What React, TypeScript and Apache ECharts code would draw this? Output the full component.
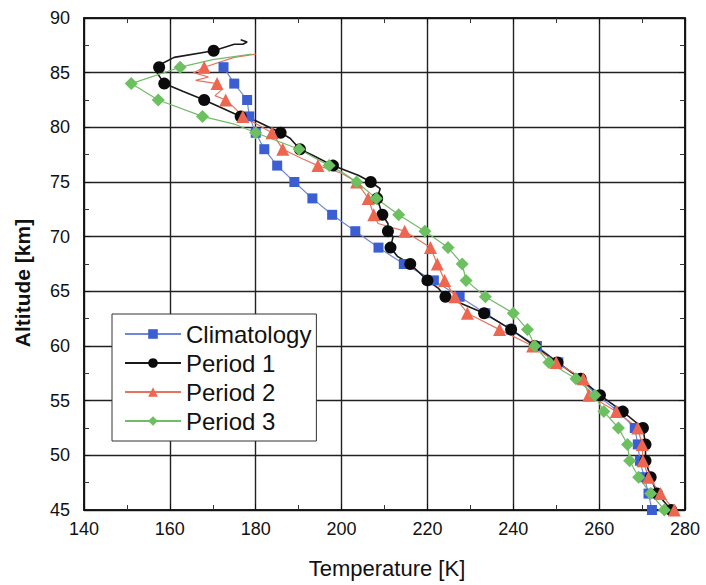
import React, { useEffect, useRef } from "react";
import * as echarts from "echarts";

// Altitudes (km) where markers are drawn
const ALT = [85.5, 84, 82.5, 81, 79.5, 78, 76.5, 75, 73.5, 72, 70.5, 69, 67.5, 66, 64.5, 63, 61.5, 60, 58.5, 57, 55.5, 54, 52.5, 51, 49.5, 48, 46.5, 45];
const ALT_P1 = [87, ...ALT];

// Temperatures (K) at the marker altitudes
const climatology = [172.5, 175, 178, 178.5, 180, 182, 185, 189, 193.2, 197.8, 203.2, 208.6, 214.5, 221.5, 227.5, 233.5, 239.5, 245.5, 250.5, 255.5, 259.5, 264.5, 268.3, 269, 269.5, 270.5, 271.5, 272.3];
const period1 = [170.2, 157.5, 158.7, 168, 176.5, 185.8, 190.3, 198, 206.8, 208.3, 209.5, 210.8, 211.4, 216, 220, 224.2, 233.2, 239.5, 245, 250.3, 255.7, 260.2, 265.5, 270.2, 270.8, 270.8, 272, 273.5, 276.8];
const period2 = [168, 171, 173, 177, 183.8, 186.3, 194.5, 203.5, 206.2, 207.5, 214.7, 220.7, 222.3, 224, 226.4, 229.3, 236.8, 244.5, 250, 256.3, 257.6, 264, 269, 270, 270.2, 271.5, 274.3, 277.5];
const period3 = [162.4, 151, 157.3, 167.6, 180, 190.1, 197.1, 203.5, 208.1, 213.3, 219.4, 224.8, 228.1, 229, 233.5, 240, 243.3, 245, 248.3, 254.6, 259, 261.1, 264.5, 266.6, 267.1, 269.2, 272, 275.2];

// Unmarked points of the high-resolution profiles [T, altitude]
const period1Line = [[176.5, 88.0], [178, 87.8], [177, 87.6], [175, 87.6], [161, 86.4], [158, 85.8], [157, 85.0], [163, 83.3], [172, 81.8], [180, 80.6], [188, 79.0], [193.5, 77.4], [204, 75.6], [209, 74.4], [210.8, 71.2], [212, 70.0], [213, 68.2], [222.5, 65.3]];
const period2Line = [[180, 86.7], [175, 86.4], [165.5, 85.0], [169, 84.6], [166, 84.3], [172, 83.4], [170.5, 82.9], [175, 81.8], [191, 77.1], [200, 75.8], [208.5, 71.2], [223, 66.9]];
const period3Line = [[179, 86.7], [170, 86.2], [175, 80.3], [200.5, 75.8]];

const names = ["Climatology", "Period 1", "Period 2", "Period 3"];
const xTicks = [140, 280, 20];
const yTicks = [45, 90, 5];

function buildData(temps: number[], alts: number[], extra: number[][]) {
  const pts: any[] = temps.map((t, i) => ({ value: [t, alts[i]], m: true }));
  extra.forEach((p) => pts.push({ value: [p[0], p[1]], m: false }));
  pts.sort((a, b) => b.value[1] - a.value[1]);
  return pts.map((p) => (p.m ? { value: p.value } : { value: p.value, symbol: "none" }));
}

export default function App() {
  const ref = useRef<HTMLDivElement>(null);
  useEffect(() => {
    if (!ref.current) return;
    const chart = echarts.init(ref.current, null, { renderer: "svg" });
    const font = "Liberation Sans, Arial, sans-serif";
    const mk = (name: string, temps: number[], alts: number[], extra: number[][], symbol: string, size: number, color: string, lineColor: string, lw: number) => ({
      name,
      type: "line",
      data: buildData(temps, alts, extra),
      symbol,
      symbolSize: size,
      showAllSymbol: true,
      itemStyle: { color },
      lineStyle: { color: lineColor, width: lw },
      emphasis: { disabled: true },
    });
    const axisCommon = {
      axisLine: { show: true, lineStyle: { color: "#111", width: 1.5 } },
      axisTick: { show: true, inside: true, length: 6, lineStyle: { color: "#111" } },
      minorTick: { show: true, splitNumber: 2, length: 5, lineStyle: { color: "#333" } },
    };
    chart.setOption({
      animation: false,
      backgroundColor: "#fff",
      grid: { left: 84, right: 21, top: 18, bottom: 75, show: true, borderColor: "#111", borderWidth: 1.5 },
      xAxis: [
        {
          type: "value", min: xTicks[0], max: xTicks[1], interval: xTicks[2], position: "bottom",
          ...axisCommon,
          axisLabel: { color: "#111", fontSize: 18, fontFamily: font, margin: 10 },
          splitLine: { show: true, lineStyle: { color: "#222", width: 1.4 } },
        },
        {
          type: "value", min: xTicks[0], max: xTicks[1], interval: xTicks[2], position: "top",
          ...axisCommon, axisLabel: { show: false }, splitLine: { show: false },
        },
      ],
      yAxis: [
        {
          type: "value", min: yTicks[0], max: yTicks[1], interval: yTicks[2], position: "left",
          ...axisCommon,
          axisLabel: { color: "#111", fontSize: 18, fontFamily: font, margin: 14 },
          splitLine: { show: true, lineStyle: { color: "#222", width: 1.4 } },
        },
        {
          type: "value", min: yTicks[0], max: yTicks[1], interval: yTicks[2], position: "right",
          ...axisCommon, axisLabel: { show: false }, splitLine: { show: false },
        },
      ],
      legend: {
        orient: "vertical",
        left: 112,
        top: 314,
        data: names,
        backgroundColor: "#fff",
        borderColor: "#333",
        borderWidth: 1,
        borderRadius: 0,
        padding: [8, 5, 8, 12],
        itemWidth: 56,
        itemHeight: 12,
        itemGap: 5,
        textStyle: { fontSize: 24, fontFamily: font, color: "#111" },
      },
      series: [
        mk(names[0], climatology, ALT, [], "rect", 10, "#3b5fd3", "#6f86dc", 1.2),
        mk(names[1], period1, ALT_P1, period1Line, "circle", 12, "#0b0b0b", "#1a1a1a", 1.6),
        mk(names[2], period2, ALT, period2Line, "triangle", 13, "#ec6650", "#e6735f", 1.2),
        mk(names[3], period3, ALT, period3Line, "diamond", 13, "#6cc060", "#72bb68", 1.2),
      ],
      graphic: [
        { type: "text", x: 387, y: 568, style: { text: "Temperature [K]", font: `22px ${font}`, fill: "#111", textAlign: "center", textVerticalAlign: "middle" } },
        { type: "text", x: 22, y: 283, rotation: Math.PI / 2, style: { text: "Altitude [km]", font: `bold 21px ${font}`, fill: "#111", textAlign: "center", textVerticalAlign: "middle" } },
      ],
    });
    return () => chart.dispose();
  }, []);
  return <div ref={ref} style={{ width: 706, height: 585, position: "absolute", left: 0, top: 0 }} />;
}
